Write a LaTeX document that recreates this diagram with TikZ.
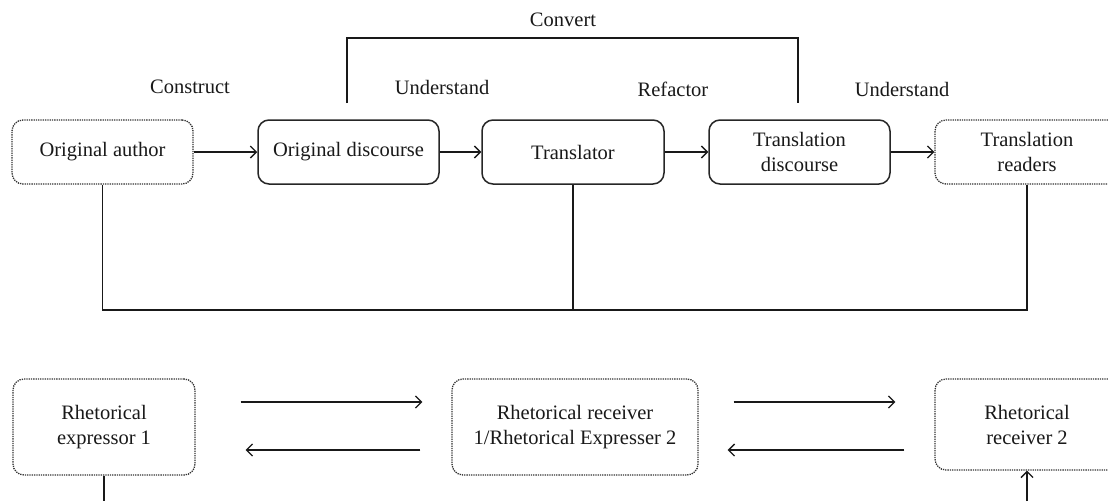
\documentclass[tikz,border=0pt]{standalone}
\usepackage{fontspec}
\setmainfont{Liberation Serif}
\usepackage{tikz}
\usetikzlibrary{positioning}
\usetikzlibrary{arrows, arrows.meta}

\begin{document}
\begin{tikzpicture}[x=1pt, y=-1pt,
  every node/.style={font=\fontsize{20.5}{25}\selectfont, text=black!90},
  solidbox/.style={draw=black!85, line width=1.5pt, rounded corners=11pt, align=center, inner sep=0pt},
  dotbox/.style={draw=black!80, line width=1.3pt, densely dotted, rounded corners=11pt, align=center, inner sep=0pt},
  link/.style={draw=black!90, line width=1.3pt},
  arr/.style={link, -{Straight Barb[length=6pt, width=12pt]}}
]
  \def\toprow{152}
  \def\botrow{427}

  \useasboundingbox (0,0) rectangle (1108,501);
  \clip (0,0) rectangle (1108,501);

  % upper chain
  \node[dotbox, minimum width=181pt, minimum height=64pt] (author) at (102.5,\toprow) {Original author};
  \node[solidbox, minimum width=181pt, minimum height=64pt] (odisc) at (348.5,\toprow) {Original discourse};
  \node[solidbox, minimum width=182pt, minimum height=64pt] (translator) at (573,\toprow) {Translator};
  \node[solidbox, minimum width=181pt, minimum height=64pt] (tdisc) at (799.5,\toprow) {Translation\\discourse};
  \node[dotbox, minimum width=184pt, minimum height=64pt] (readers) at (1027,\toprow) {Translation\\readers};

  \node (construct) at (190,87) {Construct};
  \node (underst1) at (442,87) {Understand};
  \node (refactor) at (673,89) {Refactor};
  \node (underst2) at (902,89) {Understand};
  \node (convert) at (563,20) {Convert};

  \draw[arr] (author) -- (odisc);
  \draw[arr] (odisc) -- (translator);
  \draw[arr] (translator) -- (tdisc);
  \draw[arr] (tdisc) -- (readers);

  % convert bracket
  \coordinate (convL) at (347,103);
  \coordinate (convR) at (798,103);
  \draw[link] (convL) -- ++(0,-65) -| (convR);

  % joining line
  \coordinate (base) at (0,310);
  \draw[link] (author.south) |- (readers.south |- base) -- (readers.south);
  \draw[link] (translator.south) -- (translator.south |- base);

  % lower row
  \node[dotbox, minimum width=182pt, minimum height=96pt] (expr1) at (104,\botrow) {Rhetorical\\expressor 1};
  \node[dotbox, minimum width=246pt, minimum height=96pt] (recv1) at (575,\botrow) {Rhetorical receiver\\1/Rhetorical Expresser 2};
  \node[dotbox, minimum width=184pt, minimum height=91pt] (recv2) at (1027,424.5) {Rhetorical\\receiver 2};

  \coordinate (hi) at (0,402);
  \coordinate (lo) at (0,450);
  \draw[arr, shorten <=45pt, shorten >=29pt] (expr1.east |- hi) -- (recv1.west |- hi);
  \draw[arr, shorten <=31pt, shorten >=50pt] (recv1.west |- lo) -- (expr1.east |- lo);
  \draw[arr, shorten <=35pt, shorten >=39pt] (recv1.east |- hi) -- (recv2.west |- hi);
  \draw[arr, shorten <=30pt, shorten >=29pt] (recv2.west |- lo) -- (recv1.east |- lo);

  \coordinate (edge) at (0,501);
  \draw[link] (expr1.south) -- (expr1.south |- edge);
  \draw[arr] (recv2.south |- edge) -- (recv2.south);

\end{tikzpicture}
\end{document}
